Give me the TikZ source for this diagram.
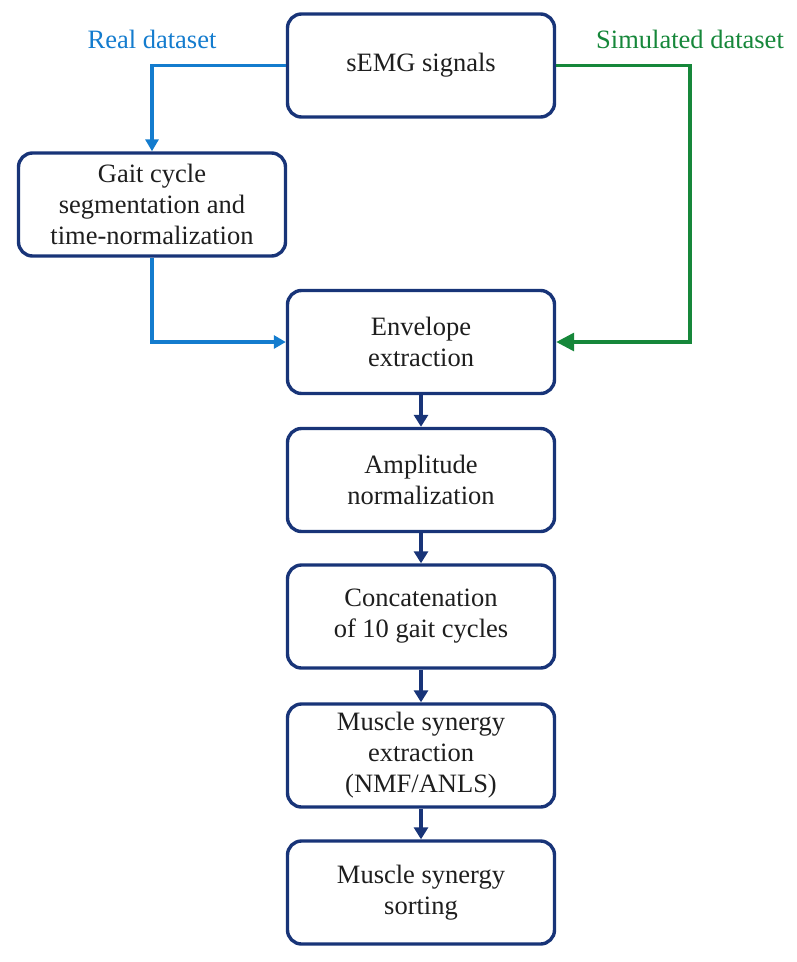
\documentclass[tikz,border=0pt]{standalone}
\usepackage{fontspec}
\setmainfont{Liberation Serif}
\usetikzlibrary{arrows.meta}
\definecolor{navy}{RGB}{24,52,120}
\definecolor{realblue}{RGB}{20,124,206}
\definecolor{simgreen}{RGB}{22,135,58}
\definecolor{txt}{RGB}{30,30,30}
\begin{document}
\begin{tikzpicture}[x=1pt,y=-1pt,
  procbox/.style={rectangle, rounded corners=14pt, draw=navy, line width=3.4pt,
    minimum width=267pt, minimum height=103pt, align=center, text=txt,
    font=\fontsize{26.5}{31}\selectfont, inner sep=2pt},
  lbl/.style={font=\fontsize{26.5}{31}\selectfont, inner sep=0pt},
  navyarrow/.style={draw=navy, line width=3.2pt, -{Triangle[length=12pt,width=14pt]}},
  bluearrow/.style={draw=realblue, line width=3.2pt, -{Triangle[length=12pt,width=13pt]}},
  greenarrow/.style={draw=simgreen, line width=3.4pt, -{Triangle[length=18pt,width=18pt]}}
]
\useasboundingbox (0,0) rectangle (796,962);
\node[procbox] (sem) at (421,65.5) {sEMG signals};
\node[procbox] (gait) at (152,204.5) {Gait cycle\\segmentation and\\time-normalization};
\node[procbox] (env) at (421,342) {Envelope\\extraction};
\node[procbox] (amp) at (421,480) {Amplitude\\normalization};
\node[procbox] (conc) at (421,616.5) {Concatenation\\of 10 gait cycles};
\node[procbox] (ext) at (421,755.5) {Muscle synergy\\extraction\\(NMF/ANLS)};
\node[procbox] (sort) at (421,892.5) {Muscle synergy\\sorting};
\node[lbl, text=realblue] (lreal) at (152,39) {Real dataset};
\node[lbl, text=simgreen] (lsim) at (690,39) {Simulated dataset};
\coordinate (g1) at (690,65.5);
\coordinate (g2) at (690,342);
\draw[bluearrow] (sem.west) -| (gait.north);
\draw[bluearrow] (gait.south) |- (env.west);
\draw[greenarrow] (sem.east) -- (g1) -- (g2) -- (env.east);
\draw[navyarrow] (env.south) -- (amp.north);
\draw[navyarrow] (amp.south) -- (conc.north);
\draw[navyarrow] (conc.south) -- (ext.north);
\draw[navyarrow] (ext.south) -- (sort.north);
\end{tikzpicture}
\end{document}
